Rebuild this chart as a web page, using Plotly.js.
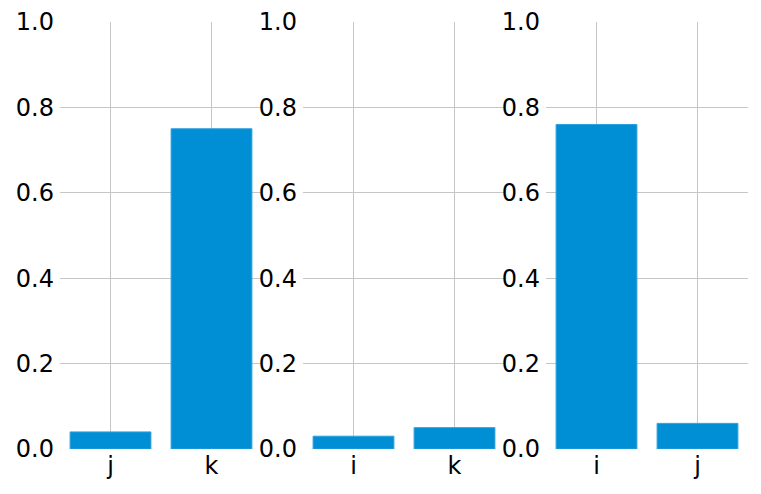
<!DOCTYPE html>
<html>
<head>
<meta charset="utf-8">
<script src="https://cdn.plot.ly/plotly-3.0.1.min.js"></script>
<style>html,body{margin:0;padding:0;background:#fff;}#chart{width:761px;height:494px;}</style>
</head>
<body>
<div id="chart"></div>
<script>
var cats1 = ['j', 'k'];
var vals1 = [0.04, 0.75];
var cats2 = ['i', 'k'];
var vals2 = [0.03, 0.05];
var cats3 = ['i', 'j'];
var vals3 = [0.76, 0.06];
var yTicks = [0, 0.2, 0.4, 0.6, 0.8, 1.0];
var yTickText = ['0.0', '0.2', '0.4', '0.6', '0.8', '1.0'];

var W = 761;
var barColor = '#008fd5';
function mk(x, y, xa, ya) {
  return {type: 'bar', x: x, y: y, xaxis: xa, yaxis: ya, width: 0.8,
    marker: {color: barColor, line: {color: '#2f9fdc', width: 1}}, hoverinfo: 'none'};
}
var data = [mk(cats1, vals1, 'x', 'y'), mk(cats2, vals2, 'x2', 'y2'), mk(cats3, vals3, 'x3', 'y3')];

function xa(d0, d1, anchor) {
  return {domain: [d0 / W, d1 / W], anchor: anchor, type: 'category', range: [-0.5, 1.5],
    showgrid: true, gridcolor: '#c6c6c6', gridwidth: 1, showline: false, zeroline: false,
    ticks: '', ticklabelstandoff: 0, tickfont: {family: 'DejaVu Sans', size: 24, color: '#000'}, fixedrange: true};
}
function ya(anchor) {
  return {anchor: anchor, domain: [0, 1], range: [0, 1.0], tickvals: yTicks, ticktext: yTickText,
    showgrid: true, gridcolor: '#c6c6c6', gridwidth: 1, showline: false, zeroline: false,
    ticks: '', ticklabelstandoff: 5, tickfont: {family: 'DejaVu Sans', size: 24, color: '#000'}, fixedrange: true};
}
var layout = {
  width: 761, height: 494,
  margin: {l: 0, r: 0, t: 22, b: 45},
  paper_bgcolor: '#fff', plot_bgcolor: '#fff',
  showlegend: false,
  xaxis: xa(60, 262, 'y'),
  xaxis2: xa(303, 505, 'y2'),
  xaxis3: xa(546, 748, 'y3'),
  yaxis: ya('x'),
  yaxis2: ya('x2'),
  yaxis3: ya('x3')
};
Plotly.newPlot('chart', data, layout, {displayModeBar: false, staticPlot: true});
</script>
</body>
</html>
